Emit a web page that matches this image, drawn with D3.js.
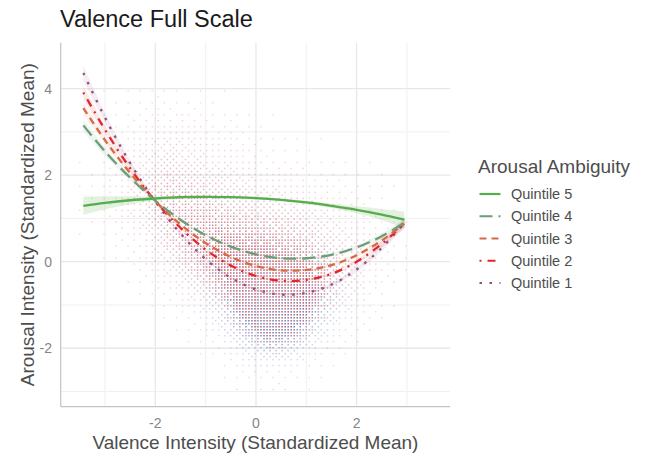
<!DOCTYPE html>
<html>
<head>
<meta charset="utf-8">
<script src="https://cdn.jsdelivr.net/npm/d3@7"></script>
<style>
  html, body { margin: 0; padding: 0; background: #ffffff; }
  svg { display: block; font-family: "Liberation Sans", Arial, Helvetica, sans-serif; }
</style>
</head>
<body>
<svg id="chart" width="648" height="457"></svg>
<script>
// ---- data ---------------------------------------------------------------
// Fitted quadratic trends of arousal on valence, sampled along the valence axis
const valenceX   = [-3.43, -3, -2.5, -2, -1.5, -1, -0.5, 0, 0.5, 1, 1.5, 2, 2.5, 2.95];
const quintile5  = [1.29, 1.36, 1.42, 1.46, 1.49, 1.50, 1.49, 1.47, 1.43, 1.37, 1.29, 1.20, 1.09, 0.97];
const quintile4  = [3.15, 2.55, 1.94, 1.41, 0.97, 0.61, 0.35, 0.17, 0.08, 0.08, 0.16, 0.33, 0.59, 0.90];
const quintile3  = [3.55, 2.81, 2.05, 1.40, 0.86, 0.43, 0.11, -0.10, -0.20, -0.19, -0.08, 0.15, 0.49, 0.88];
const quintile2  = [3.91, 3.05, 2.16, 1.40, 0.78, 0.28, -0.09, -0.33, -0.44, -0.42, -0.28, 0.00, 0.41, 0.88];
const quintile1  = [4.36, 3.33, 2.28, 1.39, 0.65, 0.06, -0.37, -0.64, -0.76, -0.72, -0.53, -0.18, 0.32, 0.90];
// Half-widths of the confidence bands at the same valence positions
const band5 = [0.21, 0.15, 0.09, 0.05, 0.04, 0.03, 0.03, 0.03, 0.03, 0.04, 0.05, 0.08, 0.13, 0.19];
const band4 = [0.14, 0.10, 0.06, 0.04, 0.03, 0.03, 0.03, 0.03, 0.03, 0.03, 0.04, 0.05, 0.07, 0.10];
const band3 = [0.14, 0.10, 0.06, 0.04, 0.03, 0.03, 0.03, 0.03, 0.03, 0.03, 0.04, 0.05, 0.07, 0.10];
const band2 = [0.15, 0.11, 0.07, 0.04, 0.03, 0.03, 0.03, 0.03, 0.03, 0.03, 0.04, 0.05, 0.07, 0.10];
const band1 = [0.17, 0.12, 0.07, 0.04, 0.03, 0.03, 0.03, 0.03, 0.03, 0.03, 0.04, 0.06, 0.08, 0.11];

const seriesNames  = ["Quintile 5", "Quintile 4", "Quintile 3", "Quintile 2", "Quintile 1"];
const seriesValues = [quintile5, quintile4, quintile3, quintile2, quintile1];
const seriesBands  = [band5, band4, band3, band2, band1];

// Observation cloud: relative density per 0.5 x 0.5 cell (rows top to bottom)
const cloudXCenters = [-3.25, -2.75, -2.25, -1.75, -1.25, -0.75, -0.25, 0.25, 0.75, 1.25, 1.75, 2.25, 2.75, 3.25];
const cloudYCenters = [4.25, 3.75, 3.25, 2.75, 2.25, 1.75, 1.25, 0.75, 0.25, -0.25, -0.75, -1.25, -1.75, -2.25, -2.75];
const cloudDensity = [
  [0,   0,   0,   0,   0,   0,   0,   0,   0,   0,   0,   0,   0,   0],
  [0,   0.2, 0.4, 0.4, 0.3, 0.2, 0,   0,   0,   0,   0,   0,   0,   0],
  [0,   0.3, 0.8, 1.0, 0.8, 0.5, 0.3, 0.1, 0,   0,   0,   0,   0,   0],
  [0,   0.5, 1.2, 1.8, 1.5, 1.0, 0.6, 0.3, 0.2, 0.1, 0,   0,   0,   0],
  [0.1, 0.8, 1.8, 2.5, 2.2, 1.6, 1.2, 0.8, 0.5, 0.3, 0.2, 0.1, 0,   0],
  [0.2, 1.0, 2.2, 3.2, 3.0, 2.4, 2.0, 1.6, 1.2, 0.8, 0.5, 0.3, 0.1, 0],
  [0.2, 0.8, 2.0, 3.5, 3.6, 3.2, 2.8, 2.4, 2.0, 1.5, 1.0, 0.6, 0.2, 0],
  [0.1, 0.5, 1.5, 3.2, 4.0, 4.2, 4.0, 3.6, 3.0, 2.4, 1.6, 0.9, 0.3, 0],
  [0,   0.3, 0.9, 2.5, 4.0, 5.0, 5.2, 5.0, 4.4, 3.4, 2.2, 1.2, 0.4, 0],
  [0,   0.1, 0.4, 1.5, 3.0, 4.8, 6.0, 6.2, 5.6, 4.2, 2.6, 1.2, 0.3, 0],
  [0,   0,   0.2, 0.6, 1.6, 3.6, 6.0, 7.0, 6.6, 4.4, 2.2, 0.8, 0.2, 0],
  [0,   0,   0,   0.2, 0.6, 2.0, 5.0, 7.0, 6.2, 3.4, 1.4, 0.4, 0,   0],
  [0,   0,   0,   0,   0.2, 0.8, 3.0, 5.0, 4.0, 1.8, 0.5, 0.1, 0,   0],
  [0,   0,   0,   0,   0,   0.2, 1.0, 2.0, 1.4, 0.4, 0.1, 0,   0,   0],
  [0,   0,   0,   0,   0,   0,   0.2, 0.5, 0.3, 0.1, 0,   0,   0,   0]
];
// Share of low-ambiguity (blue) observations per row of the cloud
const cloudBlueShare = [0, 0, 0.03, 0.04, 0.05, 0.06, 0.07, 0.08, 0.1, 0.15, 0.3, 0.5, 0.7, 0.8, 0.8];

const xMajorTicks = [-2, 0, 2];
const xMinorTicks = [-3, -1, 1, 3];
const yMajorTicks = [-2, 0, 2, 4];
const yMinorTicks = [-3, -1, 1, 3];

// ---- styling -----------------------------------------------------------
const lineColors = ["#56ad4c", "#6b9d78", "#d46a46", "#e2262b", "#944f7d"];
const lineDashes = [null, "13,6", "7,5", "2,6,8,6", "2.5,7.5"];

const svg = d3.select("#chart");
svg.append("rect").attr("width", 648).attr("height", 457).attr("fill", "#ffffff");

const x = d3.scaleLinear().domain([-3.88, 3.86]).range([60.7, 450.2]);
const y = d3.scaleLinear().domain([-3.35, 5.06]).range([406.7, 42.7]);
const [x0, x1] = x.range();
const [y0, y1] = y.range();

// ---- grid --------------------------------------------------------------
const grid = svg.append("g");
grid.selectAll(".vminor").data(xMinorTicks).join("line")
  .attr("x1", d => x(d)).attr("x2", d => x(d)).attr("y1", y1).attr("y2", y0)
  .attr("stroke", "#f0f0f0").attr("stroke-width", 1);
grid.selectAll(".hminor").data(yMinorTicks).join("line")
  .attr("y1", d => y(d)).attr("y2", d => y(d)).attr("x1", x0).attr("x2", x1)
  .attr("stroke", "#f0f0f0").attr("stroke-width", 1);
grid.selectAll(".vmajor").data(xMajorTicks).join("line")
  .attr("x1", d => x(d)).attr("x2", d => x(d)).attr("y1", y1).attr("y2", y0)
  .attr("stroke", "#e8e8e8").attr("stroke-width", 1.3);
grid.selectAll(".hmajor").data(yMajorTicks).join("line")
  .attr("y1", d => y(d)).attr("y2", d => y(d)).attr("x1", x0).attr("x2", x1)
  .attr("stroke", "#e8e8e8").attr("stroke-width", 1.3);

// ---- observation cloud (lattice of tiny points, ordered-dither thinning) --
// density field sampled bilinearly between cell centres
const gx = d3.scaleLinear().domain([cloudXCenters[0], cloudXCenters[cloudXCenters.length - 1]])
  .range([0, cloudXCenters.length - 1]).clamp(true);
const gy = d3.scaleLinear().domain([cloudYCenters[0], cloudYCenters[cloudYCenters.length - 1]])
  .range([0, cloudYCenters.length - 1]).clamp(true);
function fieldAt(vx, vy) {
  const fx = gx(vx), fy = gy(vy);
  const c = Math.min(Math.floor(fx), cloudXCenters.length - 2), r = Math.min(Math.floor(fy), cloudYCenters.length - 2);
  const tx = fx - c, ty = fy - r;
  const top = cloudDensity[r][c] * (1 - tx) + cloudDensity[r][c + 1] * tx;
  const bot = cloudDensity[r + 1][c] * (1 - tx) + cloudDensity[r + 1][c + 1] * tx;
  const dens = top * (1 - ty) + bot * ty;
  const share = cloudBlueShare[r] * (1 - ty) + cloudBlueShare[r + 1] * ty;
  return [dens, share];
}
const bayer = [
  [0, 32, 8, 40, 2, 34, 10, 42], [48, 16, 56, 24, 50, 18, 58, 26],
  [12, 44, 4, 36, 14, 46, 6, 38], [60, 28, 52, 20, 62, 30, 54, 22],
  [3, 35, 11, 43, 1, 33, 9, 41], [51, 19, 59, 27, 49, 17, 57, 25],
  [15, 47, 7, 39, 13, 45, 5, 37], [63, 31, 55, 23, 61, 29, 53, 21]
];
const stepX = 0.06, stepY = 0.069;
const cloudPts = [];
const nCols = Math.round(7 / stepX), nRows = Math.round(7.5 / stepY);
for (let j = 0; j <= nRows; j++) {
  const vy = 4.5 - j * stepY;
  for (let i = 0; i <= nCols; i++) {
    const vx = -3.5 + i * stepX;
    const [dens, share] = fieldAt(vx, vy);
    const d = Math.min(1, dens / 5);
    const t = (bayer[j % 8][i % 8] + 0.5) / 64;
    if (d <= t) continue;
    const t2 = (bayer[(j + 3) % 8][(i + 5) % 8] + 0.5) / 64;
    cloudPts.push({ vx, vy, d, blue: t2 < share });
  }
}
svg.append("g").selectAll("rect").data(cloudPts).join("rect")
  .attr("x", p => x(p.vx) - 0.75).attr("y", p => y(p.vy) - 0.75)
  .attr("width", 1.5).attr("height", 1.5)
  .attr("fill", p => p.blue ? "#3a5ca8" : "#b8283e")
  .attr("fill-opacity", p => 0.16 + 0.62 * p.d * p.d);

// ---- axis lines ----------------------------------------------------------
svg.append("line").attr("x1", x0).attr("x2", x0).attr("y1", y1).attr("y2", y0)
  .attr("stroke", "#c4c4c4").attr("stroke-width", 1.2);
svg.append("line").attr("x1", x0).attr("x2", x1).attr("y1", y0).attr("y2", y0)
  .attr("stroke", "#c4c4c4").attr("stroke-width", 1.2);

// ---- confidence bands and trend lines ----------------------------------
const area = d3.area()
  .x(d => x(d.vx)).y0(d => y(d.lo)).y1(d => y(d.hi))
  .curve(d3.curveCatmullRom);
const line = d3.line()
  .x(d => x(d.vx)).y(d => y(d.vy))
  .curve(d3.curveCatmullRom);

const bandsG = svg.append("g");
const linesG = svg.append("g");
seriesValues.forEach((vals, k) => {
  const band = valenceX.map((vx, i) => ({ vx, lo: vals[i] - seriesBands[k][i], hi: vals[i] + seriesBands[k][i] }));
  bandsG.append("path").attr("d", area(band))
    .attr("fill", lineColors[k]).attr("fill-opacity", k === 0 ? 0.17 : 0.1);
});
// draw from Quintile 1 upward so the solid line sits on top
[4, 3, 2, 1, 0].forEach(k => {
  const pts = valenceX.map((vx, i) => ({ vx, vy: seriesValues[k][i] }));
  const p = linesG.append("path").attr("d", line(pts))
    .attr("fill", "none").attr("stroke", lineColors[k])
    .attr("stroke-width", 2.3);
  if (lineDashes[k]) p.attr("stroke-dasharray", lineDashes[k]);
});

// ---- tick labels -------------------------------------------------------
svg.append("g").selectAll("text").data(xMajorTicks).join("text")
  .attr("x", d => x(d)).attr("y", 428)
  .attr("text-anchor", "middle").attr("font-size", 14).attr("fill", "#858585")
  .text(d => d);
svg.append("g").selectAll("text").data(yMajorTicks).join("text")
  .attr("x", 52).attr("y", d => y(d) + 5)
  .attr("text-anchor", "end").attr("font-size", 14).attr("fill", "#858585")
  .text(d => d);

// ---- titles --------------------------------------------------------------
svg.append("text").attr("x", 60).attr("y", 27)
  .attr("font-size", 23.5).attr("fill", "#1a1a1a")
  .text("Valence Full Scale");
svg.append("text").attr("x", (x0 + x1) / 2).attr("y", 449)
  .attr("text-anchor", "middle").attr("font-size", 19).attr("fill", "#4d4d4d")
  .text("Valence Intensity (Standardized Mean)");
svg.append("text")
  .attr("transform", `translate(33.5,${(y0 + y1) / 2}) rotate(-90)`)
  .attr("text-anchor", "middle").attr("font-size", 19).attr("fill", "#4d4d4d")
  .text("Arousal Intensity (Standardized Mean)");

// ---- legend --------------------------------------------------------------
const legend = svg.append("g");
legend.append("text").attr("x", 478).attr("y", 173)
  .attr("font-size", 19).attr("fill", "#4d4d4d").text("Arousal Ambiguity");
const itemY = d3.scalePoint().domain(seriesNames).range([194, 283]);
seriesNames.forEach((name, k) => {
  const cy = itemY(name);
  const key = legend.append("line")
    .attr("x1", 479.5).attr("x2", 500.5).attr("y1", cy).attr("y2", cy)
    .attr("stroke", lineColors[k]).attr("stroke-width", 2.2);
  if (lineDashes[k]) key.attr("stroke-dasharray", lineDashes[k]);
  legend.append("text").attr("x", 511).attr("y", cy + 5)
    .attr("font-size", 14.5).attr("fill", "#4d4d4d").text(name);
});
</script>
</body>
</html>
